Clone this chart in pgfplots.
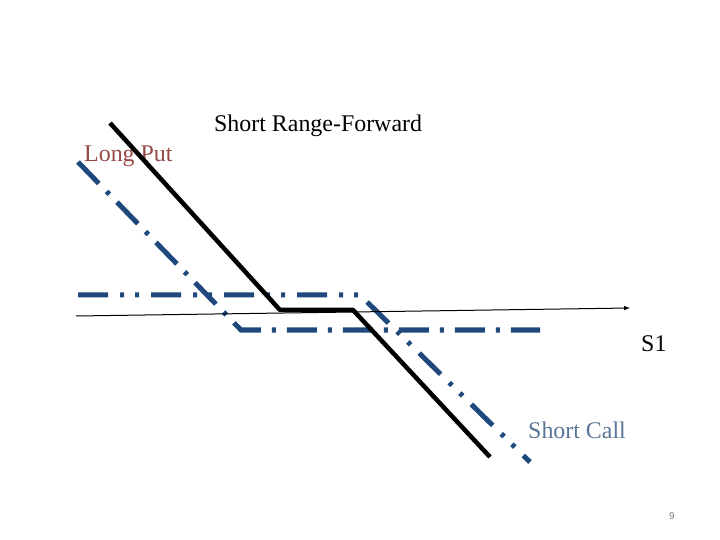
\documentclass[border=0pt]{standalone}
\usepackage{pgfplots}
\pgfplotsset{compat=1.18}
\usepackage{fontspec}
\setmainfont{Liberation Serif}
\newfontfamily\sansf{Liberation Sans}
\definecolor{dblue}{RGB}{31,73,125}
\definecolor{putred}{RGB}{150,72,70}
\definecolor{callblue}{RGB}{90,118,150}
\pgfplotsset{base/.style={
  width=720bp, height=540bp, scale only axis,
  xmin=0, xmax=720, ymin=0, ymax=540, y dir=reverse,
  hide axis, clip=false}}
\begin{document}
\begin{tikzpicture}
\begin{axis}[base]
\node[anchor=base west, inner sep=0, font=\fontsize{24}{28}\selectfont] at (axis cs:214,132) {Short Range-Forward};
\node[anchor=base west, inner sep=0, text=putred, font=\fontsize{24}{28}\selectfont] at (axis cs:84,162) {Long Put};
\node[anchor=base west, inner sep=0, font=\fontsize{24}{28}\selectfont] at (axis cs:641,352) {S1};
\node[anchor=base west, inner sep=0, text=callblue, font=\fontsize{24}{28}\selectfont] at (axis cs:528,438) {Short Call};
\node[anchor=base west, inner sep=0, text=gray, font=\sansf\fontsize{10}{12}\selectfont] at (axis cs:669,519) {9};
\end{axis}
\begin{axis}[base]
% Long Put
\addplot[dblue, line width=5bp, line cap=butt, line join=miter,
  dash pattern=on 30bp off 11bp on 4bp off 11bp]
  coordinates {(78,162) (241,330) (540,330)};
% Short Call
\addplot[dblue, line width=5bp, line cap=butt, line join=miter,
  dash pattern=on 30bp off 12bp on 4bp off 11bp on 4bp off 12bp]
  coordinates {(78,295) (360,295) (530,462)};
% axis
\addplot[black, line width=1bp, -{latex}] coordinates {(76,316) (630,308)};
% Short Range-Forward
\addplot[black, line width=4.5bp, line join=round]
  coordinates {(110,123) (280,310) (353,310) (490,457)};
\end{axis}
\path (current axis.south west) rectangle (current axis.north east);
\end{tikzpicture}
\end{document}
